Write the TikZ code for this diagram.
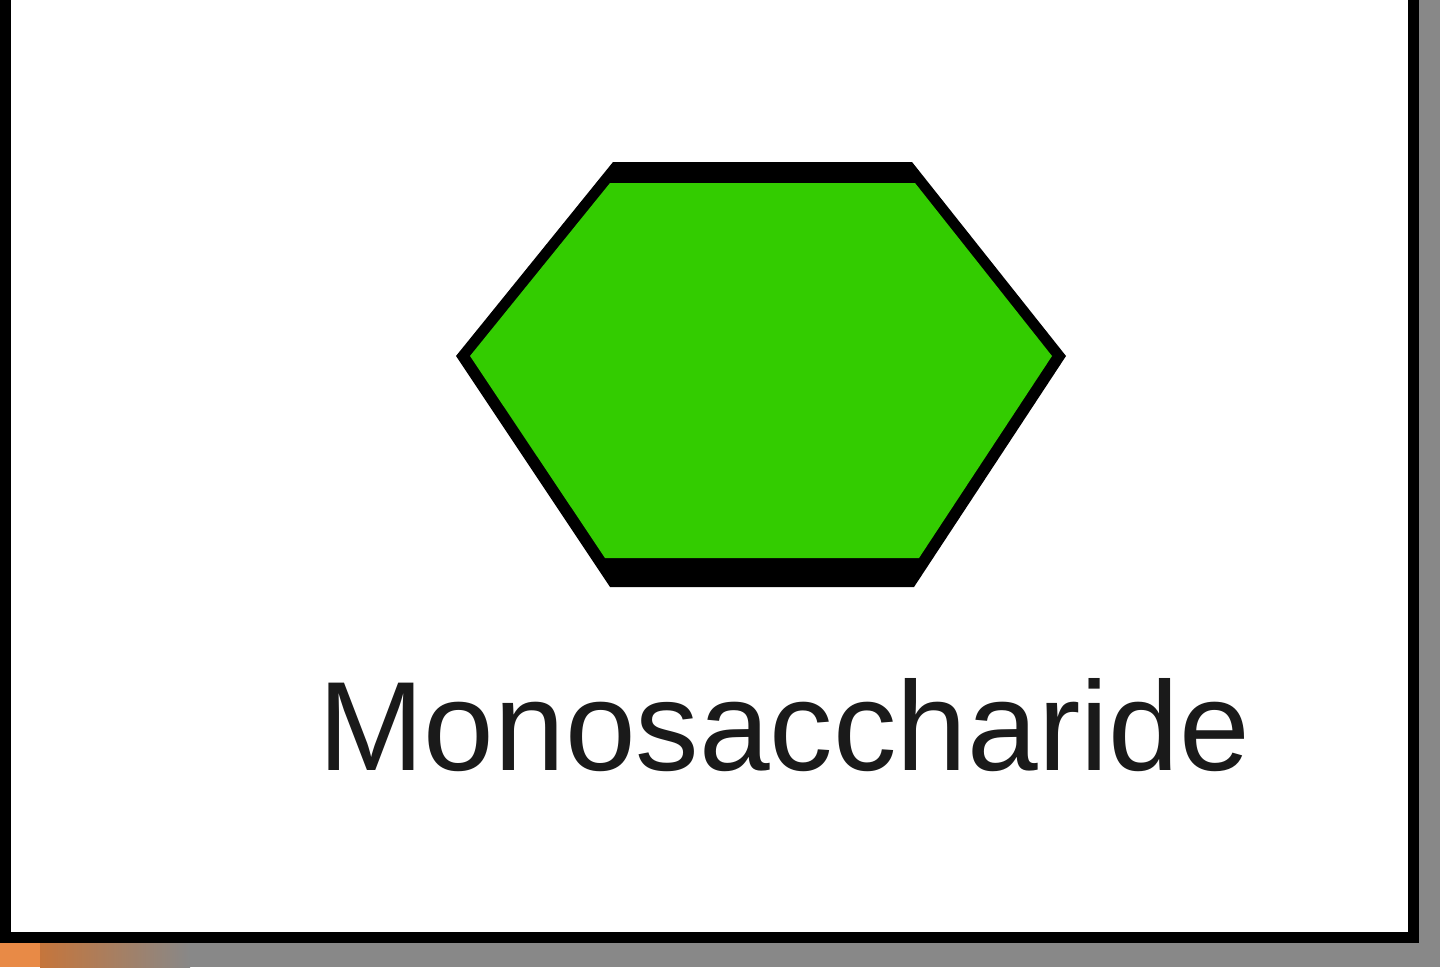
\documentclass[tikz,border=0pt]{standalone}
\usepackage{fontspec}
\setmainfont{Liberation Sans}
\definecolor{sugargreen}{RGB}{51,204,0}
\definecolor{bggray}{RGB}{136,136,136}
\definecolor{edgeorange}{RGB}{232,138,70}
\definecolor{textdark}{RGB}{26,26,26}
\tikzset{
  frame/.style={draw=black, line width=11pt, fill=white},
  hexouter/.style={fill=black},
  hexinner/.style={fill=sugargreen},
  label/.style={text=textdark, inner sep=0pt, font=\fontsize{127}{127}\selectfont}
}
\begin{document}
\begin{tikzpicture}[x=1pt,y=-1pt]
\useasboundingbox (0,0) rectangle (1440,967);
\clip (0,0) rectangle (1440,967);
% surrounding background
\fill[bggray] (0,0) rectangle (1440,967);
\fill[edgeorange] (0,940) rectangle (40,967);
\shade[left color=edgeorange!85!black, right color=bggray] (40,940) rectangle (190,967);
% card
\draw[frame] (5.5,-30) rectangle (1413,937);
% hexagon
\fill[hexouter] (613,162) -- (912,162) -- (1066,356) -- (914,587) -- (610,587) -- (456,356) -- cycle;
\fill[hexinner] (610,183) -- (915,183) -- (1052,356) -- (919,558) -- (605,558) -- (470,356) -- cycle;
% label
\node[label, anchor=base] (name) at (784,770) {Monosaccharide};
\end{tikzpicture}
\end{document}
